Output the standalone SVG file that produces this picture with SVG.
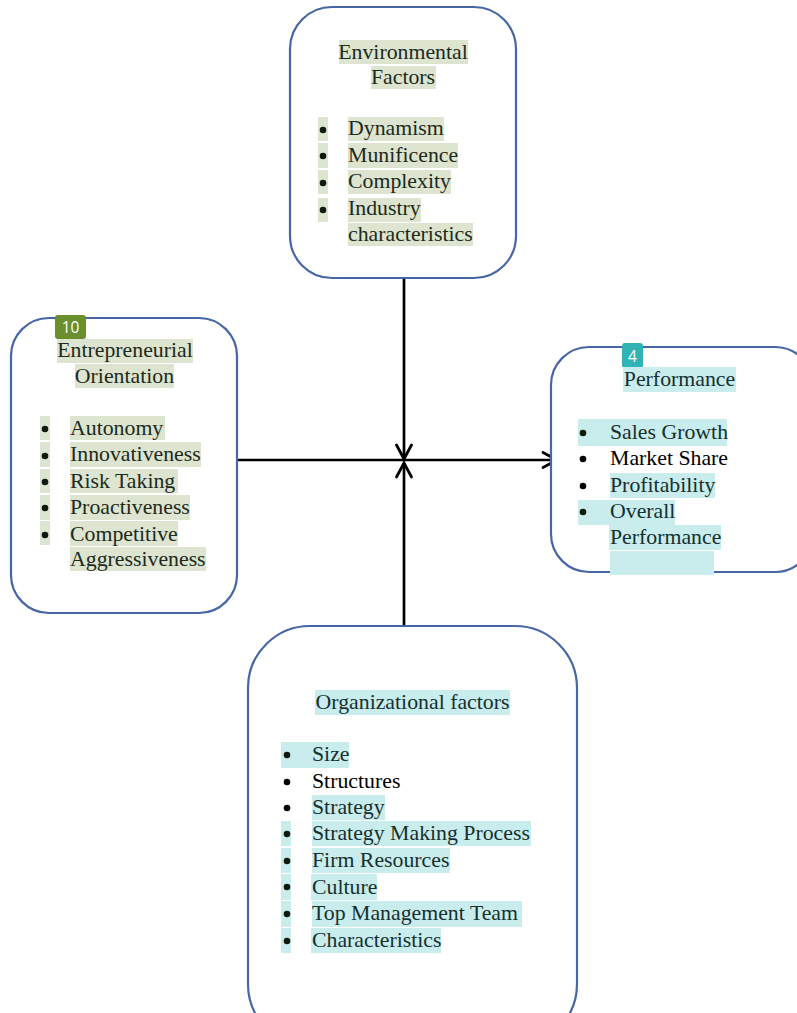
<svg xmlns="http://www.w3.org/2000/svg" width="797" height="1013" viewBox="0 0 797 1013">
<style>
.box{fill:#fff;stroke:#4666a6;stroke-width:2.2}
.t{font-family:"Liberation Serif","Times New Roman",serif;font-size:21.8px;fill:#1c2a1c}
.tc{font-family:"Liberation Serif","Times New Roman",serif;font-size:21.8px;fill:#153030}
.tb{font-family:"Liberation Serif","Times New Roman",serif;font-size:21.8px;fill:#000}
.hg{fill:#dde4cf}
.hc{fill:#c9ecec}
.dot{fill:#0d1a0d}
.conn{stroke:#000;stroke-width:2.7;fill:none}
.head{stroke:#000;stroke-width:2.8;fill:none;stroke-linecap:round;stroke-linejoin:miter}
.badge{font-family:"Open Sans","Liberation Sans",sans-serif;font-size:15.5px;fill:#fff}
</style>

<g id="connectors">
<path class="conn" d="M404,278 L404,459"/>
<path class="head" d="M396.5,445 L404,459 L411.5,445"/>
<path class="conn" d="M404,626 L404,463"/>
<path class="head" d="M396.5,477 L404,463 L411.5,477"/>
<path class="conn" d="M237,460 L557,460"/>
<path class="head" d="M543,452.5 L557,460 L543,467.5"/>
</g>

<g id="environmental">
<rect class="box" x="290" y="7" width="226" height="271" rx="42"/>
<rect class="hg" x="339" y="40" width="129" height="24"/>
<rect class="hg" x="371" y="66" width="65" height="23"/>
<text class="t" x="403" y="59" text-anchor="middle">Environmental</text>
<text class="t" x="403" y="84" text-anchor="middle">Factors</text>
<rect class="hg" x="318" y="117" width="10" height="24"/>
<rect class="hg" x="318" y="143" width="10" height="25"/>
<rect class="hg" x="318" y="170" width="10" height="24"/>
<rect class="hg" x="318" y="198" width="10" height="24"/>
<rect class="hg" x="348" y="117" width="96" height="24"/>
<rect class="hg" x="348" y="143" width="110" height="25"/>
<rect class="hg" x="348" y="170" width="103" height="24"/>
<rect class="hg" x="348" y="198" width="73" height="24"/>
<rect class="hg" x="348" y="223" width="125" height="23"/>
<circle class="dot" cx="323" cy="130" r="3.3"/>
<circle class="dot" cx="323" cy="156" r="3.3"/>
<circle class="dot" cx="323" cy="183" r="3.3"/>
<circle class="dot" cx="323" cy="210" r="3.3"/>
<text class="t" x="348" y="135">Dynamism</text>
<text class="t" x="348" y="162">Munificence</text>
<text class="t" x="348" y="188">Complexity</text>
<text class="t" x="348" y="215">Industry</text>
<text class="t" x="348" y="241">characteristics</text>
</g>

<g id="entrepreneurial">
<rect class="box" x="11" y="318" width="226" height="295" rx="38"/>
<rect x="55" y="315" width="31" height="24" rx="3" fill="#6a8f2c"/>
<text class="badge" x="70.5" y="333" text-anchor="middle">10</text>
<rect class="hg" x="57" y="339" width="136" height="24"/>
<rect class="hg" x="75" y="364" width="99" height="24"/>
<text class="t" x="125" y="357" text-anchor="middle">Entrepreneurial</text>
<text class="t" x="124.5" y="383" text-anchor="middle">Orientation</text>
<rect class="hg" x="40" y="416" width="10" height="24"/>
<rect class="hg" x="40" y="442" width="10" height="25"/>
<rect class="hg" x="40" y="469" width="10" height="24"/>
<rect class="hg" x="40" y="495" width="10" height="25"/>
<rect class="hg" x="40" y="521" width="10" height="24"/>
<rect class="hg" x="70" y="416" width="95" height="24"/>
<rect class="hg" x="70" y="442" width="131" height="25"/>
<rect class="hg" x="70" y="469" width="108" height="24"/>
<rect class="hg" x="70" y="495" width="120" height="25"/>
<rect class="hg" x="70" y="521" width="108" height="25"/>
<rect class="hg" x="70" y="547" width="136" height="24"/>
<circle class="dot" cx="45" cy="429" r="3.3"/>
<circle class="dot" cx="45" cy="456" r="3.3"/>
<circle class="dot" cx="45" cy="482" r="3.3"/>
<circle class="dot" cx="45" cy="508" r="3.3"/>
<circle class="dot" cx="45" cy="535" r="3.3"/>
<text class="t" x="70" y="435">Autonomy</text>
<text class="t" x="70" y="461">Innovativeness</text>
<text class="t" x="70" y="488">Risk Taking</text>
<text class="t" x="70" y="514">Proactiveness</text>
<text class="t" x="70" y="541">Competitive</text>
<text class="t" x="70" y="566">Aggressiveness</text>
</g>

<g id="performance">
<rect class="box" x="551" y="347" width="262" height="225" rx="38"/>
<rect x="622" y="343" width="21" height="25" rx="3" fill="#2fb3b4"/>
<text class="badge" x="632.5" y="361.5" text-anchor="middle">4</text>
<rect class="hc" x="623" y="367" width="113" height="25"/>
<text class="tc" x="679.5" y="386" text-anchor="middle">Performance</text>
<rect class="hc" x="578" y="419" width="149" height="27"/>
<rect class="hc" x="610" y="473" width="105" height="25"/>
<rect class="hc" x="578" y="500" width="97" height="25"/>
<rect class="hc" x="609" y="525" width="112" height="25"/>
<rect class="hc" x="610" y="551" width="104" height="24"/>
<circle class="dot" cx="583" cy="433" r="3.3"/>
<circle cx="583" cy="459" r="3.3" fill="#000"/>
<circle cx="583" cy="486" r="3.3" fill="#000"/>
<circle class="dot" cx="583" cy="512" r="3.3"/>
<text class="tc" x="610" y="439">Sales Growth</text>
<text class="tb" x="610" y="465">Market Share</text>
<text class="tc" x="610" y="492">Profitability</text>
<text class="tc" x="610" y="518">Overall</text>
<text class="tc" x="610" y="544">Performance</text>
</g>

<g id="organizational">
<rect class="box" x="248" y="626" width="329" height="420" rx="62"/>
<rect class="hc" x="315" y="690" width="195" height="25"/>
<text class="tc" x="412.5" y="709" text-anchor="middle">Organizational factors</text>
<rect class="hc" x="281" y="742" width="68" height="26"/>
<rect class="hc" x="312" y="795" width="73" height="25"/>
<rect class="hc" x="281" y="821" width="10" height="25"/>
<rect class="hc" x="281" y="848" width="10" height="25"/>
<rect class="hc" x="281" y="874" width="10" height="26"/>
<rect class="hc" x="281" y="901" width="10" height="26"/>
<rect class="hc" x="281" y="928" width="10" height="25"/>
<rect class="hc" x="312" y="821" width="219" height="25"/>
<rect class="hc" x="312" y="848" width="138" height="25"/>
<rect class="hc" x="311" y="874" width="66" height="26"/>
<rect class="hc" x="312" y="901" width="210" height="26"/>
<rect class="hc" x="311" y="928" width="130" height="25"/>
<circle class="dot" cx="287" cy="755" r="3.3"/>
<circle cx="287" cy="782" r="3.3" fill="#000"/>
<circle cx="287" cy="808" r="3.3" fill="#000"/>
<circle class="dot" cx="287" cy="834" r="3.3"/>
<circle class="dot" cx="287" cy="861" r="3.3"/>
<circle class="dot" cx="287" cy="887" r="3.3"/>
<circle class="dot" cx="287" cy="914" r="3.3"/>
<circle class="dot" cx="287" cy="941" r="3.3"/>
<text class="tc" x="312" y="761">Size</text>
<text class="tb" x="312" y="788">Structures</text>
<text class="tc" x="312" y="814">Strategy</text>
<text class="tc" x="312" y="840">Strategy Making Process</text>
<text class="tc" x="312" y="867">Firm Resources</text>
<text class="tc" x="312" y="894">Culture</text>
<text class="tc" x="312" y="920">Top Management Team</text>
<text class="tc" x="312" y="947">Characteristics</text>
</g>
</svg>
